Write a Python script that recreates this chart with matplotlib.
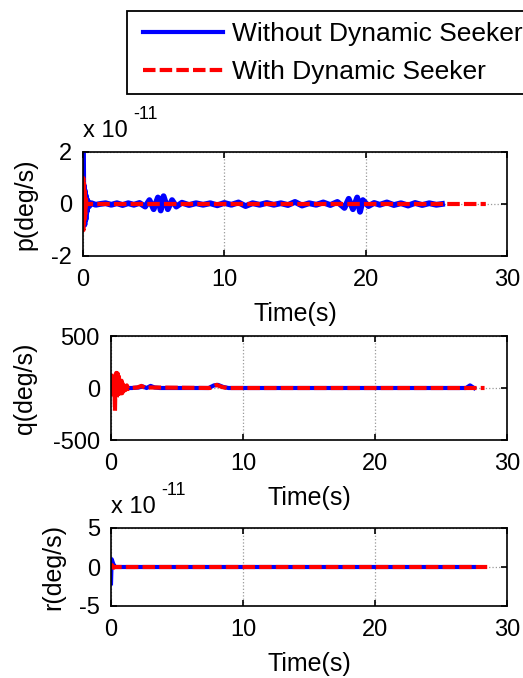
import matplotlib
matplotlib.use('Agg')
import matplotlib.pyplot as plt
from matplotlib.lines import Line2D
from matplotlib.patches import Rectangle

plt.rcParams['font.family'] = ['Liberation Sans', 'DejaVu Sans']
plt.rcParams['axes.unicode_minus'] = False

W, H = 523, 678

# p (roll rate), values in units of 1e-11 deg/s
p_t_wo = [0.00, 0.03, 0.06, 0.10, 0.14, 0.18, 0.22, 0.26, 0.30, 0.40,
          0.60, 0.90, 1.20, 1.60, 2.00, 2.40, 2.80, 3.20, 3.60, 4.00,
          4.40, 4.70, 5.00, 5.30, 5.50, 5.70, 6.00, 6.30, 6.60, 7.00,
          7.50, 8.00, 8.50, 9.00, 9.50, 10.0, 10.5, 11.0, 11.5, 12.0,
          12.5, 13.0, 13.5, 14.0, 14.5, 15.0, 15.5, 16.0, 16.5, 17.0,
          17.5, 18.0, 18.5, 18.8, 19.1, 19.4, 19.6, 19.8, 20.2, 20.6,
          21.0, 21.5, 22.0, 22.5, 23.0, 23.5, 24.0, 24.5, 25.0, 25.4]
p_wo = [2.00, -0.60, 0.70, -0.80, 0.50, -0.60, 0.30, -0.30, 0.15, -0.10,
        0.03, -0.03, 0.00, 0.03, -0.03, 0.03, -0.04, 0.03, -0.03, 0.04,
        -0.10, 0.15, -0.20, 0.25, -0.25, 0.30, -0.20, 0.15, -0.10, 0.05,
        -0.04, 0.03, -0.03, 0.03, -0.05, 0.04, -0.03, 0.06, -0.08, 0.03,
        -0.03, 0.04, -0.03, 0.03, -0.04, 0.08, -0.06, 0.03, -0.03, 0.06,
        -0.04, 0.08, -0.15, 0.20, -0.20, 0.25, -0.30, 0.15, -0.08, 0.04,
        -0.03, 0.06, -0.04, 0.03, -0.06, 0.04, -0.04, 0.03, -0.03, 0.00]
p_t_w = [0.00, 0.02, 0.04, 0.07, 0.10, 0.13, 0.16, 0.20, 0.25, 28.5]
p_w = [0.00, 1.00, -1.00, 0.80, -0.70, 0.50, -0.40, 0.20, 0.00, 0.00]

# q (pitch rate), deg/s
q_t_wo = [0.00, 0.10, 0.20, 0.30, 0.50, 0.80, 1.20, 1.60, 2.10, 2.40,
          2.70, 3.00, 3.30, 3.70, 7.40, 7.80, 8.10, 8.50, 8.90, 26.9,
          27.2, 27.5]
q_wo = [-50, 20, -30, 15, -10, 5, 0, 0, 5, 15,
        0, 20, 5, 0, 0, 25, 30, 10, 0, 0,
        25, 0]
q_t_w = [0.00, 0.05, 0.10, 0.15, 0.20, 0.25, 0.30, 0.35, 0.40, 0.45,
         0.50, 0.55, 0.60, 0.65, 0.70, 0.75, 0.80, 0.85, 0.90, 0.95,
         1.00, 1.10, 1.20, 1.30, 1.50, 2.00, 2.30, 2.60, 3.00, 7.50,
         8.00, 8.40, 8.80, 28.3]
q_w = [0, 120, -80, 100, -60, 90, -220, 130, 145, -100,
       140, -60, 110, -80, 90, -40, 70, -50, 60, -30,
       40, -20, 25, -10, 0, 5, 20, 0, 5, 0,
       30, 10, 0, 0]

# r (yaw rate), values in units of 1e-11 deg/s
r_t_wo = [0.00, 0.05, 0.15, 0.25, 0.40, 27.5]
r_wo = [-2.10, 1.00, 0.50, 0.10, 0.00, 0.00]
r_t_w = [0.00, 0.10, 0.20, 0.30, 28.5]
r_w = [0.30, 0.20, -0.10, 0.00, 0.00]

labels = ['Without Dynamic Seeker', 'With Dynamic Seeker']

# (ylabel, data..., ylim, yticks, x10^-11 note, axes box px, blue lw, ylabel right edge px)
panels = [
    ('p(deg/s)', p_t_wo, p_wo, p_t_w, p_w, (-2, 2), [-2, 0, 2], True,
     [83, 152, 507, 256], 4.2, 37),
    ('q(deg/s)', q_t_wo, q_wo, q_t_w, q_w, (-500, 500), [-500, 0, 500], False,
     [111, 336, 507, 440], 3.0, 37),
    ('r(deg/s)', r_t_wo, r_wo, r_t_w, r_w, (-5, 5), [-5, 0, 5], True,
     [111, 528, 507, 606], 3.0, 65),
]

fig = plt.figure(figsize=(W / 100, H / 100), dpi=100)
fs_tick = 17
fs_lab = 18


def px(x, y):
    return x / W, 1 - y / H


for (ylab, tb, yb, tr, yr, ylim, yticks, scaled, box, lwb, yl_x) in panels:
    x0, y0, x1, y1 = box
    ax = fig.add_axes([x0 / W, 1 - y1 / H, (x1 - x0) / W, (y1 - y0) / H])
    ax.plot(tb, yb, color='blue', lw=lwb, solid_joinstyle='round')
    ln, = ax.plot(tr, yr, color='red', lw=3.0, linestyle='--')
    ln.set_dashes((3.0, 1.0))
    ax.set_xlim(0, 30)
    ax.set_ylim(*ylim)
    ax.set_xticks([0, 10, 20, 30])
    ax.set_yticks(yticks)
    ax.grid(True, linestyle=':', color='#999999', lw=0.9)
    ax.tick_params(direction='in', top=True, right=True, length=4, width=1.2,
                   labelsize=fs_tick)
    ax.tick_params(axis='x', pad=9)
    ax.tick_params(axis='y', pad=8)
    for s in ax.spines.values():
        s.set_linewidth(1.2)
    ax.set_xlabel('Time(s)', fontsize=fs_lab)
    ax.xaxis.set_label_coords(0.5, -(46 / (y1 - y0)))
    ax.set_ylabel(ylab, fontsize=fs_lab)
    ax.yaxis.set_label_coords((yl_x - x0) / (x1 - x0), 0.5)
    if scaled:
        fig.text(*px(x0, y0 - 15), 'x 10', fontsize=fs_tick, va='baseline')
        fig.text(*px(x0 + 50, y0 - 33), '-11', fontsize=13, va='baseline')

# legend box drawn in figure pixels, partly running off the right edge
fig.patches.append(Rectangle(px(127, 94), (560 - 127) / W, (94 - 11) / H,
                             transform=fig.transFigure, facecolor='white',
                             edgecolor='black', lw=1.3))
for (yy, lab, col, ls) in [(32, labels[0], 'blue', '-'), (70, labels[1], 'red', '--')]:
    xa, ya = px(143, yy)
    xb, _ = px(223, yy)
    l = Line2D([xa, xb], [ya, ya], transform=fig.transFigure, color=col, lw=3.0,
               linestyle=ls)
    if ls == '--':
        l.set_dashes((3.0, 1.0))
    fig.lines.append(l)
    fig.text(*px(232, yy), lab, fontsize=19, va='center_baseline')

fig.savefig('out.png', dpi=100)
